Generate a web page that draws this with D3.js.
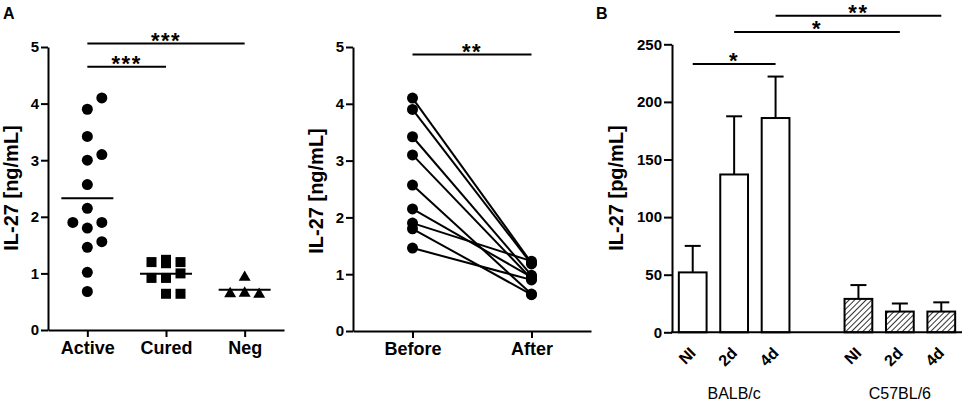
<!DOCTYPE html>
<html>
<head>
<meta charset="utf-8">
<script src="https://cdn.jsdelivr.net/npm/d3@7"></script>
<style>
  body { margin: 0; background: #fff; }
  svg { font-family: "Liberation Sans", Arial, sans-serif; }
</style>
</head>
<body>
<div id="chart"></div>
<script>
// Panel A, left: IL-27 per patient group (ng/mL)
var groupNames = ["Active", "Cured", "Neg"];
var activeValues = [3.9, 3.42, 3.0, 2.57, 2.15, 1.8, 1.46, 1.02, 0.68, 4.1, 3.1, 1.9, 1.56, 1.9];
var curedValues = [1.18, 0.92, 0.64, 1.0, 1.2, 0.92, 1.2, 0.64, 1.24];
var negValues = [0.93, 0.65, 0.63, 0.64];
var ngTicks = [0, 1, 2, 3, 4, 5];
// [from, to, level in ng/mL, label]
var groupSignif = [["Active", "Cured", 4.65, "***"], ["Active", "Neg", 5.06, "***"]];

// Panel A, middle: paired before / after treatment
var pairNames = ["Before", "After"];
var beforeValues = [4.1, 3.9, 3.42, 3.1, 2.57, 2.15, 1.9, 1.8, 1.46];
var afterValues = [1.2, 1.18, 0.98, 0.92, 0.65, 0.95, 1.23, 0.64, 0.9];
var pairSignif = [["Before", "After", 4.87, "**"]];

// Panel B: mouse strains (pg/mL), mean + error
var barLabels = ["NI", "2d", "4d", "NI", "2d", "4d"];
var barStrains = ["BALB/c", "BALB/c", "BALB/c", "C57BL/6", "C57BL/6", "C57BL/6"];
var barMeans = [52, 137, 186, 29, 18, 18];
var barErrors = [23, 50.5, 36, 12, 7, 8];
var pgTicks = [0, 50, 100, 150, 200, 250];
// [bar index from, bar index to, level in pg/mL, label]
var barSignif = [[0, 2, 233, "*"], [1, 4, 260.7, "*"], [2, 5, 274.8, "**"]];

var svg = d3.select("#chart")
  .append("svg")
  .attr("width", 964)
  .attr("height", 404);

var defs = svg.append("defs");
var hatch = defs.append("pattern")
  .attr("id", "hatch")
  .attr("patternUnits", "userSpaceOnUse")
  .attr("width", 4)
  .attr("height", 4)
  .attr("patternTransform", "rotate(45)");
hatch.append("rect").attr("width", 4).attr("height", 4).attr("fill", "#fff");
hatch.append("line")
  .attr("x1", 0).attr("y1", 0).attr("x2", 0).attr("y2", 4)
  .attr("stroke", "#333").attr("stroke-width", 2);

function styleAxis(g, size) {
  g.attr("font-family", null)
    .attr("font-size", size)
    .attr("font-weight", "bold");
  g.selectAll("path.domain").attr("stroke-width", 2);
  g.selectAll(".tick line").attr("stroke-width", 2);
}

function signif(g, list, xOf, y) {
  list.forEach(function(s) {
    var x1 = xOf(s[0]), x2 = xOf(s[1]), yy = y(s[2]);
    g.append("line")
      .attr("x1", x1).attr("x2", x2)
      .attr("y1", yy).attr("y2", yy)
      .attr("stroke", "#000").attr("stroke-width", 2);
    g.append("text")
      .attr("x", (x1 + x2) / 2)
      .attr("y", yy + 4.5)
      .attr("text-anchor", "middle")
      .attr("font-size", 22)
      .attr("font-weight", "bold")
      .attr("letter-spacing", 1.5)
      .text(s[3]);
  });
}

function yLabel(x, y, text) {
  svg.append("text")
    .attr("transform", `translate(${x}, ${y}) rotate(-90)`)
    .attr("text-anchor", "middle")
    .attr("font-size", 20)
    .attr("font-weight", "bold")
    .text(text);
}

// spread points sideways when they would overlap (column scatter)
function spread(values, x0, y, size, step) {
  var placed = [];
  var offsets = [0, step, -step];
  return values.map(function(v) {
    var py = y(v);
    var best = 0, bestHits = Infinity;
    offsets.forEach(function(o) {
      if (bestHits === 0) return;
      var hits = placed.filter(function(p) {
        return Math.abs(p.dx - o) < size + 1 && Math.abs(p.y - py) < size + 1;
      }).length;
      if (hits < bestHits) { bestHits = hits; best = o; }
    });
    placed.push({ dx: best, y: py });
    return { value: v, x: x0 + best, y: py };
  });
}

// Panel labels
svg.append("text").attr("x", 3).attr("y", 18.5)
  .attr("font-size", 16).attr("font-weight", "bold").text("A");
svg.append("text").attr("x", 596).attr("y", 18.5)
  .attr("font-size", 16).attr("font-weight", "bold").text("B");

// ---------- Panel A left ----------
var xGroup = d3.scalePoint().domain(groupNames).range([48, 284]).padding(0.5);
var yGroup = d3.scaleLinear().domain([0, 5]).range([330, 47]);

var gA = svg.append("g");
gA.append("g")
  .attr("transform", "translate(48, 0)")
  .call(d3.axisLeft(yGroup).tickValues(ngTicks).tickFormat(d3.format("d"))
    .tickSize(7).tickPadding(2).tickSizeOuter(0))
  .call(styleAxis, 15);
gA.append("g")
  .attr("transform", "translate(0, 330)")
  .call(d3.axisBottom(xGroup).tickSize(7).tickPadding(4).tickSizeOuter(0))
  .call(styleAxis, 18);

var groupSets = [
  { name: "Active", values: activeValues, shape: "circle", size: 11 },
  { name: "Cured", values: curedValues, shape: "square", size: 10 },
  { name: "Neg", values: negValues, shape: "triangle", size: 11 }
];

groupSets.forEach(function(set) {
  var pts = spread(set.values, xGroup(set.name), yGroup, set.size, 14.5);
  if (set.shape === "circle") {
    gA.selectAll(null).data(pts).enter().append("circle")
      .attr("cx", d => d.x).attr("cy", d => d.y).attr("r", 5.5)
      .attr("fill", "#000");
  } else {
    var sym = d3.symbol()
      .type(set.shape === "square" ? d3.symbolSquare : d3.symbolTriangle)
      .size(set.shape === "square" ? 100 : 62);
    gA.selectAll(null).data(pts).enter().append("path")
      .attr("transform", d => `translate(${d.x}, ${d.y})`)
      .attr("d", sym)
      .attr("fill", "#000");
  }
  var m = yGroup(d3.mean(set.values));
  gA.append("line")
    .attr("x1", xGroup(set.name) - 26).attr("x2", xGroup(set.name) + 26)
    .attr("y1", m).attr("y2", m)
    .attr("stroke", "#000").attr("stroke-width", 2);
});

signif(gA, groupSignif, xGroup, yGroup);
yLabel(18, 188, "IL-27 [ng/mL]");

// ---------- Panel A middle ----------
var xPair = d3.scalePoint().domain(pairNames).range([353, 591]).padding(0.5);
var yPair = d3.scaleLinear().domain([0, 5]).range([331, 47]);

var gP = svg.append("g");
gP.append("g")
  .attr("transform", "translate(353, 0)")
  .call(d3.axisLeft(yPair).tickValues(ngTicks).tickFormat(d3.format("d"))
    .tickSize(7).tickPadding(2).tickSizeOuter(0))
  .call(styleAxis, 15);
gP.append("g")
  .attr("transform", "translate(0, 331)")
  .call(d3.axisBottom(xPair).tickSize(7).tickPadding(4).tickSizeOuter(0))
  .call(styleAxis, 18);

var pairs = beforeValues.map(function(b, i) { return { before: b, after: afterValues[i] }; });
gP.selectAll(null).data(pairs).enter().append("line")
  .attr("x1", xPair("Before")).attr("x2", xPair("After"))
  .attr("y1", d => yPair(d.before)).attr("y2", d => yPair(d.after))
  .attr("stroke", "#000").attr("stroke-width", 2);
gP.selectAll(null).data(beforeValues).enter().append("circle")
  .attr("cx", xPair("Before")).attr("cy", d => yPair(d)).attr("r", 5.5);
gP.selectAll(null).data(afterValues).enter().append("circle")
  .attr("cx", xPair("After")).attr("cy", d => yPair(d)).attr("r", 5.5);

signif(gP, pairSignif, xPair, yPair);
yLabel(323, 191, "IL-27 [ng/mL]");

// ---------- Panel B ----------
var strainNames = Array.from(new Set(barStrains));
var slots = [];
strainNames.forEach(function(s, si) {
  if (si > 0) slots.push("gap" + si);
  barLabels.forEach(function(l, i) { if (barStrains[i] === s) slots.push(i); });
});
var xBar = d3.scaleBand().domain(slots).range([672, 962]).paddingInner(0.33).paddingOuter(0.165);
var yBar = d3.scaleLinear().domain([0, 250]).range([332.3, 44.3]);
var barCenter = i => xBar(i) + xBar.bandwidth() / 2;

var gB = svg.append("g");
var bars = barMeans.map(function(m, i) {
  return { i: i, mean: m, err: barErrors[i], label: barLabels[i], strain: barStrains[i] };
});

// error bars (upper only)
gB.selectAll(null).data(bars).enter().append("line")
  .attr("x1", d => barCenter(d.i)).attr("x2", d => barCenter(d.i))
  .attr("y1", d => yBar(d.mean)).attr("y2", d => yBar(d.mean + d.err))
  .attr("stroke", "#000").attr("stroke-width", 2);
gB.selectAll(null).data(bars).enter().append("line")
  .attr("x1", d => barCenter(d.i) - 8).attr("x2", d => barCenter(d.i) + 8)
  .attr("y1", d => yBar(d.mean + d.err)).attr("y2", d => yBar(d.mean + d.err))
  .attr("stroke", "#000").attr("stroke-width", 2);

gB.selectAll(null).data(bars).enter().append("rect")
  .attr("x", d => xBar(d.i))
  .attr("width", xBar.bandwidth())
  .attr("y", d => yBar(d.mean))
  .attr("height", d => yBar(0) - yBar(d.mean))
  .attr("fill", d => d.strain === strainNames[0] ? "#fff" : "url(#hatch)")
  .attr("stroke", "#000")
  .attr("stroke-width", 2);

gB.append("g")
  .attr("transform", "translate(672, 0)")
  .call(d3.axisLeft(yBar).tickValues(pgTicks).tickSize(8).tickPadding(2).tickSizeOuter(0))
  .call(styleAxis, 15);
gB.append("line")
  .attr("x1", 671).attr("x2", 962)
  .attr("y1", yBar(0)).attr("y2", yBar(0))
  .attr("stroke", "#000").attr("stroke-width", 2);

gB.selectAll(null).data(bars).enter().append("text")
  .attr("transform", d => `translate(${barCenter(d.i) + 4}, 354) rotate(-45)`)
  .attr("text-anchor", "end")
  .attr("font-size", 16)
  .attr("font-weight", "bold")
  .text(d => d.label);

strainNames.forEach(function(s) {
  var idx = bars.filter(d => d.strain === s).map(d => barCenter(d.i));
  gB.append("text")
    .attr("x", d3.mean(idx))
    .attr("y", 399)
    .attr("text-anchor", "middle")
    .attr("font-size", 16)
    .text(s);
});

signif(gB, barSignif, barCenter, yBar);
yLabel(623, 188, "IL-27 [pg/mL]");
</script>
</body>
</html>
